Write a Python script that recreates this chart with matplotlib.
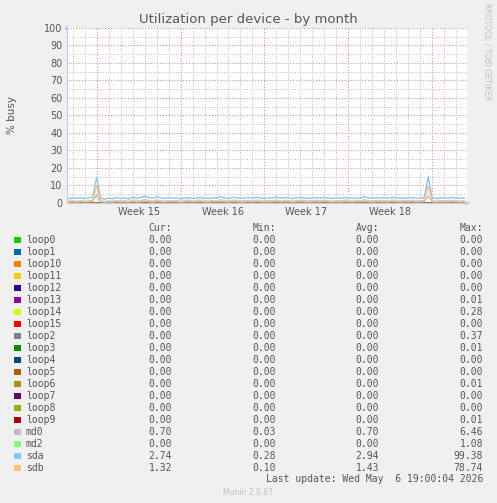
import numpy as np
import matplotlib.pyplot as plt

# series names and colours (munin defaults)
names = ["loop0", "loop1", "loop10", "loop11", "loop12", "loop13", "loop14", "loop15",
         "loop2", "loop3", "loop4", "loop5", "loop6", "loop7", "loop8", "loop9",
         "md0", "md2", "sda", "sdb"]
colors = ["#00cc00", "#0066b3", "#ff8000", "#ffcc00", "#330099", "#990099", "#ccff00", "#ff0000",
          "#808080", "#008f00", "#00487d", "#b35a00", "#b38f00", "#6b006b", "#8fb300", "#b30000",
          "#bebebe", "#80ff80", "#80c9ff", "#ffc080"]
cur = ["0.00"] * 16 + ["0.70", "0.00", "2.74", "1.32"]
mins = ["0.00"] * 16 + ["0.03", "0.00", "0.28", "0.10"]
avgs = ["0.00"] * 16 + ["0.70", "0.00", "2.94", "1.43"]
maxs = ["0.00", "0.00", "0.00", "0.00", "0.00", "0.01", "0.28", "0.00",
        "0.37", "0.01", "0.00", "0.00", "0.01", "0.00", "0.00", "0.01",
        "6.46", "1.08", "99.38", "78.74"]

# sampled values (days from left edge, every 8 hours)
t_start = 1 / 6
t_step = 1 / 3
sda = [2.4, 2.9, 2.6, 3.1, 2.5, 2.8, 3.3, 14.5, 3.0, 2.2, 2.7, 2.4, 3.2, 2.5, 2.9, 2.3,
       3.4, 2.6, 3.0, 3.8, 3.2, 2.7, 3.5, 2.9, 2.6, 3.1, 2.7, 3.0, 2.4, 2.8, 3.1, 2.6,
       2.9, 3.3, 2.7, 2.5, 3.0, 2.8, 3.6, 2.9, 2.5, 3.2, 3.0, 2.6, 2.8, 3.1, 2.7, 3.3,
       2.9, 2.6, 3.0, 2.8, 3.4, 2.7, 3.1, 2.9, 2.5, 3.0, 3.2, 2.8, 2.6, 2.9, 3.1, 2.7,
       3.3, 2.8, 2.5, 3.0, 2.7, 3.2, 2.9, 2.6, 3.0, 2.8, 3.5, 2.9, 2.6, 3.1, 2.8, 3.0,
       2.7, 3.3, 2.9, 2.6, 3.0, 2.8, 3.2, 2.7, 2.9, 3.1, 15.0, 2.8, 2.6, 3.0, 2.9, 2.7,
       3.1, 2.8, 2.6, 2.9]
sdb = [1.1, 1.4, 0.9, 1.3, 1.0, 1.2, 1.6, 10.0, 1.3, 0.8, 1.2, 1.0, 1.5, 1.1, 1.4, 0.9,
       1.8, 1.2, 1.3, 1.9, 1.5, 1.1, 1.7, 1.3, 1.0, 1.4, 1.2, 1.5, 0.9, 1.3, 1.6, 1.1,
       1.4, 1.7, 1.2, 1.0, 1.5, 1.3, 1.8, 1.4, 1.0, 1.6, 1.5, 1.1, 1.3, 1.5, 1.2, 1.7,
       1.4, 1.1, 1.4, 1.3, 1.8, 1.2, 1.5, 1.4, 1.0, 1.4, 1.6, 1.3, 1.1, 1.4, 1.5, 1.2,
       1.7, 1.3, 1.0, 1.4, 1.2, 1.6, 1.4, 1.1, 1.5, 1.3, 1.8, 1.4, 1.1, 1.5, 1.3, 1.4,
       1.2, 1.7, 1.4, 1.1, 1.5, 1.3, 1.6, 1.2, 1.4, 1.5, 9.5, 1.3, 1.1, 1.4, 1.3, 1.2,
       1.5, 1.3, 1.1, 1.4]
md0 = [0.6, 0.7, 0.5, 0.8, 0.6, 0.7, 0.9, 4.5, 0.7, 0.5, 0.6, 0.6, 0.8, 0.6, 0.7, 0.5,
       0.9, 0.6, 0.7, 1.0, 0.8, 0.6, 0.9, 0.7, 0.6, 0.8, 0.7, 0.8, 0.5, 0.7, 0.8, 0.6,
       0.7, 0.9, 0.6, 0.6, 0.8, 0.7, 0.9, 0.7, 0.6, 0.8, 0.8, 0.6, 0.7, 0.8, 0.6, 0.9,
       0.7, 0.6, 0.7, 0.7, 0.9, 0.6, 0.8, 0.7, 0.6, 0.7, 0.8, 0.7, 0.6, 0.7, 0.8, 0.6,
       0.9, 0.7, 0.6, 0.7, 0.6, 0.8, 0.7, 0.6, 0.8, 0.7, 0.9, 0.7, 0.6, 0.8, 0.7, 0.7,
       0.6, 0.9, 0.7, 0.6, 0.8, 0.7, 0.8, 0.6, 0.7, 0.8, 4.0, 0.7, 0.6, 0.7, 0.7, 0.6,
       0.8, 0.7, 0.6, 0.7]
md2 = [0.0] * len(sda)
loops = [0.0] * len(sda)

week_labels = ["Week 15", "Week 16", "Week 17", "Week 18"]
week_starts = [2.5, 9.5, 16.5, 23.5, 30.5]

fg = "#555555"
plt.rcParams['font.family'] = ['DejaVu Sans']
fig = plt.figure(figsize=(4.97, 5.03), dpi=100, facecolor="#f0f0f0")
ax = fig.add_axes([66.7 / 497, 1 - 203 / 503, 400.3 / 497, 175 / 503])
ax.set_facecolor("white")

ax.set_xlim(0, 33.4)
ax.set_ylim(0, 100)

# grid
for d in np.arange(0.5, 33.4, 1.0):
    if not any(abs(d - w) < 1e-6 for w in week_starts):
        ax.axvline(d, color="#bdbdbd", lw=0.7, ls=(0, (1, 1.6)), zorder=0)
for w in week_starts:
    ax.axvline(w, color="#e09090", lw=0.8, ls=(0, (1, 1.6)), zorder=0)
for y in range(5, 101, 10):
    ax.axhline(y, color="#bdbdbd", lw=0.7, ls=(0, (1, 1.6)), zorder=0)
for y in range(10, 101, 10):
    ax.axhline(y, color="#e09090", lw=0.8, ls=(0, (1, 1.6)), zorder=0)

series = {"md0": md0, "md2": md2, "sda": sda, "sdb": sdb}
for name, col in zip(names, colors):
    vals = series.get(name, loops)
    x = t_start + t_step * np.arange(len(vals))
    ax.plot(x, vals, color=col, lw=1.0, zorder=2)

ax.set_yticks(range(0, 101, 10))
ax.set_yticklabels([str(v) for v in range(0, 101, 10)])
ax.set_xticks([w + 3.5 for w in week_starts[:4]])
ax.set_xticklabels(week_labels)
ax.tick_params(axis="both", colors=fg, labelsize=7, length=0, pad=3)
for s in ax.spines.values():
    s.set_visible(False)
ax.spines["left"].set_visible(True)
ax.spines["bottom"].set_visible(True)
ax.spines["left"].set_color("#c8c8f0")
ax.spines["bottom"].set_color("#c8c8f0")
ax.annotate("", xy=(0, 103.5), xytext=(0, 99), xycoords="data",
            arrowprops=dict(arrowstyle="-|>", color="#c8c8f0", lw=0.8, mutation_scale=6),
            annotation_clip=False)
ax.annotate("", xy=(33.9, 0), xytext=(33.3, 0), xycoords="data",
            arrowprops=dict(arrowstyle="-|>", color="#c8c8f0", lw=0.8, mutation_scale=6),
            annotation_clip=False)

fig.text(248 / 497, 1 - 19 / 503, "Utilization per device - by month", ha="center", va="center",
         fontsize=9.5, color=fg)
fig.text(12 / 497, 1 - 115 / 503, "% busy", rotation=90, ha="center", va="center",
         fontsize=7.5, color=fg)
fig.text(487 / 497, 1 - 52 / 503, "RRDTOOL / TOBI OETIKER", rotation=270, ha="center",
         va="center", fontsize=5.5, color="#c0c0c0")

# legend table
mono = "DejaVu Sans Mono"
row0 = 239.7
dy = 12.0
col_right = [172, 276, 379, 483]
for hdr, xr in zip(["Cur:", "Min:", "Avg:", "Max:"], col_right):
    fig.text(xr / 497, 1 - 228 / 503, hdr, ha="right", va="center", fontsize=7,
             family=mono, color=fg)
for i, (name, col) in enumerate(zip(names, colors)):
    yy = 1 - (row0 + i * dy) / 503
    fig.patches.append(plt.Rectangle((14 / 497, yy - 3.3 / 503), 6.5 / 497, 6.5 / 503,
                                     transform=fig.transFigure, facecolor=col,
                                     edgecolor="none"))
    fig.text(26 / 497, yy, name, ha="left", va="center", fontsize=7, family=mono, color=fg)
    for v, xr in zip([cur[i], mins[i], avgs[i], maxs[i]], col_right):
        fig.text(xr / 497, yy, v, ha="right", va="center", fontsize=7, family=mono, color=fg)

fig.text(483 / 497, 1 - 479 / 503, "Last update: Wed May  6 19:00:04 2026", ha="right",
         va="center", fontsize=7, family=mono, color=fg)
fig.text(248 / 497, 1 - 492.5 / 503, "Munin 2.0.67", ha="center", va="center",
         fontsize=5.5, color="#c0c0c0")

fig.savefig("out.png", dpi=100, facecolor=fig.get_facecolor())
